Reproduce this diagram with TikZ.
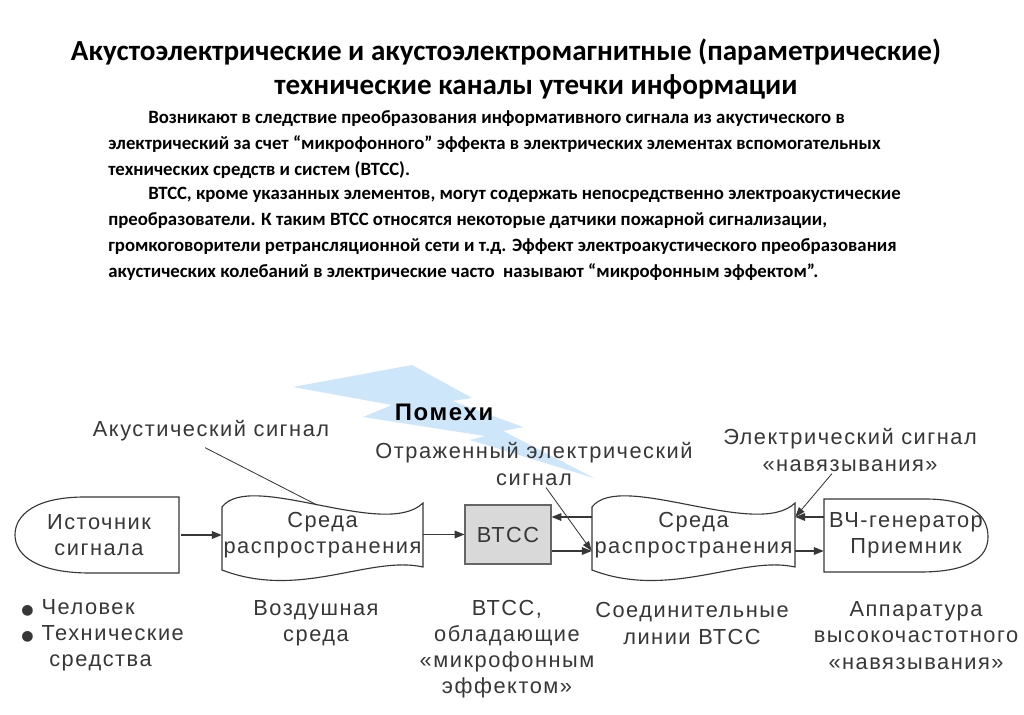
\documentclass[tikz,border=0pt]{standalone}
\usepackage{fontspec}
\setmainfont{Carlito}
\newfontfamily\diagfont{Liberation Sans}[LetterSpace=7]
\newfontfamily\symfont{DejaVu Sans}
\usetikzlibrary{arrows.meta, calc}
\definecolor{boltblue}{RGB}{205, 230, 250}
\definecolor{boxgray}{RGB}{217, 217, 217}
\definecolor{inkgray}{RGB}{55, 55, 55}

\begin{document}
\begin{tikzpicture}[x=0.025cm, y=-0.025cm,
    head/.style={font=\bfseries\fontsize{20.7}{24}\selectfont, inner sep=0pt},
    para/.style={font=\bfseries\fontsize{13.35}{18.5}\selectfont, align=left,
                 inner sep=0pt, anchor=north west},
    lbl/.style={font=\diagfont\fontsize{15.5}{18.6}\selectfont, text=inkgray,
                align=center, inner sep=0pt},
    outline/.style={draw=inkgray, line width=0.8pt},
    wire/.style={inkgray, line width=0.8pt, -{Triangle[length=7pt, width=5.5pt]}},
    lead/.style={inkgray, line width=0.6pt},
  ]
    \fill[white] (0,0) rectangle (1024,715);
    \useasboundingbox (0,0) rectangle (1024,715);

    % heading and text
    \node[head] (title1) at (506,52) {Акустоэлектрические и акустоэлектромагнитные (параметрические)};
    \node[head] (title2) at (536,87) {технические каналы утечки информации};
    \node[para] (par1) at (108,110) {\hspace*{1cm}Возникают в следствие преобразования информативного сигнала из акустического в\\
      электрический за счет “микрофонного” эффекта в электрических элементах вспомогательных\\
      технических средств и систем (ВТСС).};
    \node[para] (par2) at (108,187) {\hspace*{1cm}ВТСС, кроме указанных элементов, могут содержать непосредственно электроакустические\\
      преобразователи. К таким ВТСС относятся некоторые датчики пожарной сигнализации,\\
      громкоговорители ретрансляционной сети и т.д. Эффект электроакустического преобразования\\
      акустических колебаний в электрические часто \ называют “микрофонным эффектом”.};

    % interference bolt
    \fill[boltblue] (293,387) -- (412,365) -- (472,398) -- (452,401) -- (523,427)
      -- (503,431) -- (594,478) -- (470,440) -- (485,436) -- (363,417) -- (392,405) -- cycle;
    \node[lbl, font=\diagfont\bfseries\fontsize{17}{18}\selectfont, text=black] (noise) at (444,412) {Помехи};

    % blocks
    \node[lbl, minimum width=4.1cm, minimum height=1.9cm] (src) at (99,535) {Источник\\сигнала};
    \node[lbl, minimum width=5.025cm, minimum height=2.1cm] (med1) at (322.5,535) {Среда\\распространения};
    \node[lbl, draw=gray!80!black, fill=boxgray, line width=0.8pt,
          minimum width=2.15cm, minimum height=1.475cm] (btcc) at (508,534.5) {ВТСС};
    \node[lbl, minimum width=5.075cm, minimum height=2.1cm] (med2) at (693.5,535) {Среда\\распространения};
    \node[lbl, minimum width=4.1cm, minimum height=1.825cm] (hf) at (906,535.5) {ВЧ-генератор\\Приемник};

    \draw[outline] (179,497) -- (85,497) .. controls (35,497) and (15,515) .. (15,535)
      .. controls (15,557) and (40,573) .. (90,573) -- (179,573) -- cycle;
    \draw[outline] (222,507) .. controls (250,470) and (385,540) .. (423,503) -- (423,567)
      .. controls (370,555) and (300,600) .. (222,570) -- cycle;
    \draw[outline] (592,507) .. controls (620,470) and (757,540) .. (795,503) -- (795,567)
      .. controls (742,555) and (670,600) .. (592,570) -- cycle;
    \draw[outline] (824,499) -- (925,499) .. controls (975,499) and (988,518) .. (988,537)
      .. controls (988,558) and (968,572) .. (920,572) -- (824,572) -- cycle;

    % connectors
    \coordinate (up) at (0,517);
    \coordinate (lo) at (0,551);
    \coordinate (acu-end) at (317,505);
    \draw[wire] (src.east) -- (src.east -| med1.west);
    \draw[wire] (med1.east |- btcc.west) -- (btcc.west);
    \draw[wire] (med2.west |- up) -- (btcc.east |- up);
    \draw[wire] (btcc.east |- lo) -- (med2.west |- lo);
    \draw[wire] (hf.west |- up) -- (med2.east |- up);
    \draw[wire] (med2.east |- lo) -- (hf.west |- lo);

    % labels with leaders
    \node[lbl] (acu) at (211,431) {Акустический сигнал};
    \node[lbl] (refl) at (534,464) {Отраженный электрический\\сигнал};
    \node[lbl] (elec) at (850,450) {Электрический сигнал\\«навязывания»};
    \draw[lead] ($(acu.south)+(-6,6)$) -- (acu-end);
    \draw[lead, -{Triangle[length=7pt, width=5pt]}] ($(refl.south)+(12,2)$) -- (med2.west |- lo);
    \draw[lead, -{Triangle[length=7pt, width=5pt]}] ($(elec.south)+(-18,2)$) -- (med2.east |- up);

    % captions
    \node[lbl, align=left, anchor=west] (srcnote) at (21,635)
      {{\symfont\fontsize{10}{10}\selectfont ●}\hspace{0.2cm}Человек\\
       {\symfont\fontsize{10}{10}\selectfont ●}\hspace{0.2cm}Технические\\
       \hspace*{0.7cm}средства};
    \node[lbl] (air) at (316,623.5) {Воздушная\\среда};
    \node[lbl] (btccnote) at (507,649) {ВТСС,\\обладающие\\«микрофонным\\эффектом»};
    \node[lbl] (lines) at (692,623.5) {Соединительные\\линии ВТСС};
    \node[lbl] (hfnote) at (916,635.5) {Аппаратура\\высокочастотного\\«навязывания»};
\end{tikzpicture}
\end{document}
